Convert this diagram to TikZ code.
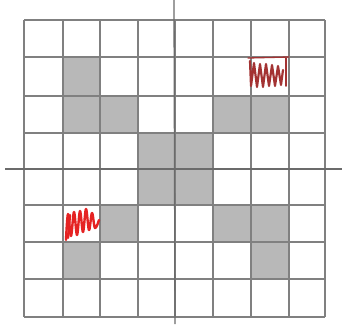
\documentclass[tikz,border=0pt]{standalone}
\begin{document}
\begin{tikzpicture}[x=1pt,y=-1pt,
  cellfill/.style={fill=black!28},
  gridline/.style={draw=black!50,line width=1.1pt},
  axisline/.style={draw=black!58,line width=1.3pt},
  scribA/.style={draw=red!55!black!80,line width=2.2pt,line join=round,line cap=round},
  scribB/.style={draw=red!80!pink!90!black,line width=2.4pt,line join=round,line cap=round}]
\useasboundingbox (0,0) rectangle (342,324);
\fill[white] (0,0) rectangle (342,324);
% column and row positions
\def\xs{{24,63,100,138,175,213,251,289,325}}
\def\ys{{20,57,96,133,169,205,242,279,317}}
% gray cells: row,col
\foreach \r/\c in {1/1,2/1,2/2,3/3,3/4,4/3,4/4,2/5,2/6,5/2,5/5,5/6,6/1,6/6}{
  \pgfmathsetmacro{\xa}{\xs[\c]}
  \pgfmathsetmacro{\xb}{\xs[\c+1]}
  \pgfmathsetmacro{\ya}{\ys[\r]}
  \pgfmathsetmacro{\yb}{\ys[\r+1]}
  \path[cellfill] (\xa,\ya) rectangle (\xb,\yb);
}
% grid lines
\foreach \i in {0,...,8}{
  \pgfmathsetmacro{\xx}{\xs[\i]}
  \pgfmathsetmacro{\yy}{\ys[\i]}
  \draw[gridline] (\xx,20) -- (\xx,317);
  \draw[gridline] (24,\yy) -- (325,\yy);
}
% axes
\draw[axisline] (174,0) -- (175,324);
\draw[axisline] (5,169) -- (342,169);
% scribbles
\draw[scribA,line width=1.3pt] (248,58) -- (289,57);
\draw[scribA] (250,61) -- (251,86) -- (254,63) -- (257,87) -- (260,64) -- (263,87)
  -- (266,64) -- (269,86) -- (272,65) -- (275,86) -- (278,66) -- (281,85) -- (283,70);
\draw[scribA,line width=1.6pt] (286,58) -- (286,86);
\draw[scribB] plot[smooth,tension=0.6] coordinates {(66,240) (68,214) (71,236) (74,212) (77,235) (80,211) (83,232) (86,209) (89,230) (92,213) (95,228) (99,220)};
\draw[scribB] (68,238) -- (70,215);
\end{tikzpicture}
\end{document}
